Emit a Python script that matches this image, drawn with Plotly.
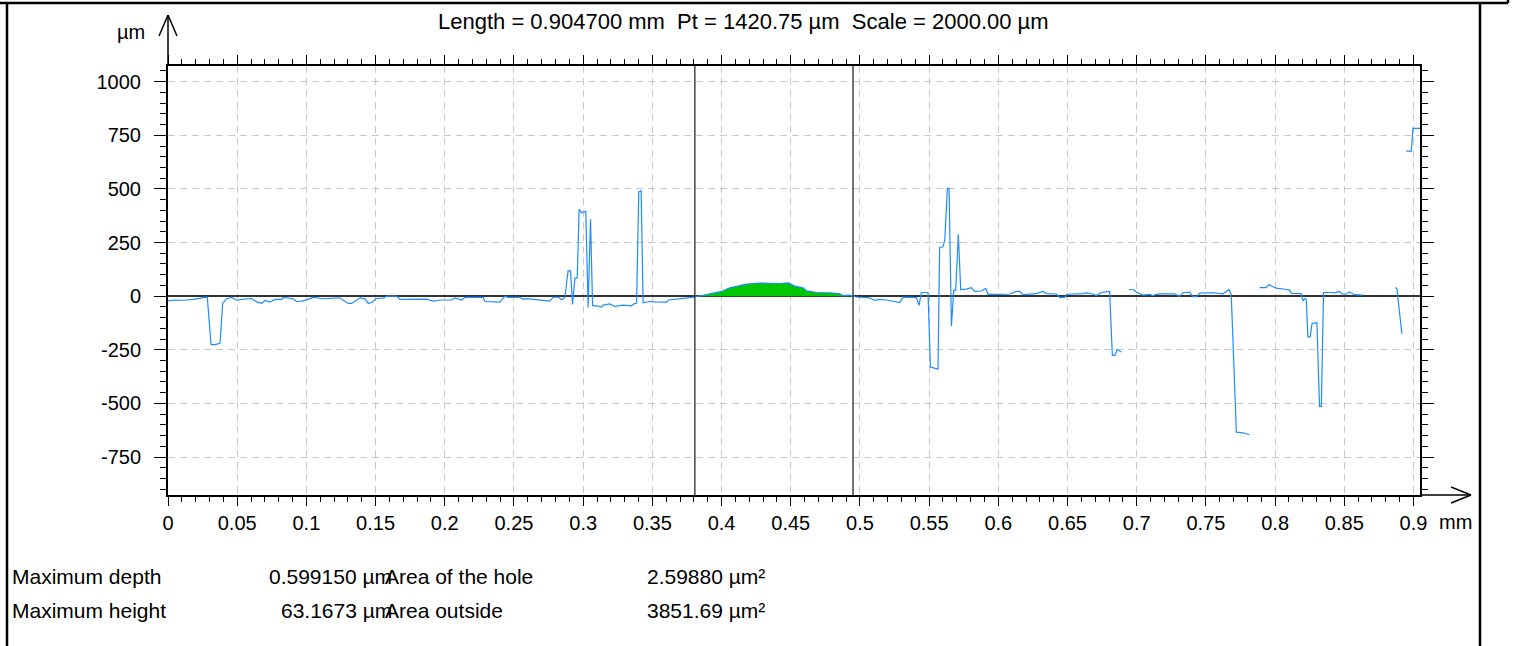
import plotly.graph_objects as go

# ---------------- data ----------------
x_mm = [
    0.0000, 0.0051, 0.0111, 0.0183, 0.0267, 0.0284, 0.0311, 0.0340, 0.0376, 0.0395, 0.0424, 0.0460, 0.0496, 0.0532,
    0.0605, 0.0641, 0.0677, 0.0701, 0.0737, 0.0773, 0.0821, 0.0833, 0.0905, 0.0930, 0.0977, 0.1050,
    0.1122, 0.1242, 0.1302, 0.1327, 0.1387, 0.1423, 0.1447, 0.1478, 0.1502, 0.1555, 0.1580, 0.1652, 0.1676,
    0.1772, 0.1796, 0.1869, 0.1916, 0.1965, 0.2049, 0.2073, 0.2122, 0.2145, 0.2278, 0.2290, 0.2398, 0.2434, 0.2458,
    0.2543, 0.2567, 0.2591, 0.2675, 0.2759, 0.2783, 0.2819, 0.2844, 0.2868,
    0.2891, 0.2909, 0.2923, 0.2940, 0.2957, 0.2971, 0.2989, 0.3019, 0.3036, 0.3053, 0.3068, 0.3108, 0.3133, 0.3144,
    0.3193, 0.3229, 0.3289, 0.3349, 0.3366, 0.3386, 0.3402, 0.3419, 0.3433, 0.3482,
    0.3518, 0.3602, 0.3619, 0.3675, 0.3722, 0.3807, 0.3939, 0.4000, 0.4060, 0.4180, 0.4276, 0.4421, 0.4481, 0.4529,
    0.4589, 0.4614, 0.4686, 0.4782, 0.4854, 0.4878, 0.4926, 0.4950, 0.4975, 0.5071, 0.5107, 0.5143, 0.5191,
    0.5288, 0.5311, 0.5408, 0.5427, 0.5444, 0.5492, 0.5509, 0.5564, 0.5576, 0.5600, 0.5613, 0.5632, 0.5644, 0.5661,
    0.5678, 0.5692, 0.5711, 0.5728, 0.5769, 0.5805, 0.5829, 0.5878, 0.5909, 0.5925,
    0.6010, 0.6082, 0.6131, 0.6154, 0.6178, 0.6275, 0.6322, 0.6346, 0.6419, 0.6443, 0.6479, 0.6492, 0.6612, 0.6636,
    0.6684, 0.6708, 0.6744, 0.6804, 0.6824, 0.6842, 0.6859, 0.6888, None,
    0.6944, 0.6973, 0.6997, 0.7045, 0.7093, 0.7117, 0.7141, 0.7165, 0.7274, 0.7310, 0.7334, 0.7382, 0.7406, 0.7431,
    0.7455, 0.7551, 0.7623, 0.7666, 0.7683, 0.7720, 0.7768, 0.7816, None,
    0.7888, 0.7936, 0.7955, 0.7984, 0.8009, 0.8081, 0.8105, 0.8117, 0.8189, 0.8201, 0.8213, 0.8225, 0.8237, 0.8254,
    0.8266, 0.8302, 0.8321, 0.8334, 0.8350, 0.8394, 0.8430, 0.8466, 0.8482, 0.8514, 0.8538, 0.8574, 0.8634, None,
    0.8868, 0.8880, 0.8916, None, 0.8948, 0.8984, 0.8996, 0.9047,
]
z_um = [
    -22, -18, -19, -15, -6, -5, -226, -226, -220, -34, -12, -6, -19, -15,
    -11, -27, -33, -20, -28, -15, -15, -6, -12, -26, -22, -6,
    -12, -8, -34, -34, -8, -12, -34, -27, -11, -9, 0, 0, -15,
    -14, -12, -14, -23, -18, -18, -8, -18, -6, -6, -25, -28, 0, -6,
    -6, -15, -12, -17, -23, -5, -5, -17, -6,
    118, 118, -39, 83, 85, 405, 389, 395, -53, 358, -44, -46, -51, -42,
    -36, -48, -42, -45, -36, -33, 487, 491, -31, -25,
    -27, -28, -18, -15, -10, -4, 12, 22, 39, 56, 61, 59, 62, 47,
    39, 25, 17, 16, 11, 3, 5, 0, -4, -8, -20, -15, -18,
    -30, -5, -7, -43, 17, 17, -330, -341, 227, 230, 262, 503, 503, -140,
    28, 28, 288, 31, 33, 40, 22, 24, 36, 8,
    8, 10, 22, 22, 7, 12, 22, 12, 10, -6, -6, 9, 12, 15,
    10, 3, 17, 22, -276, -276, -249, -260, None,
    31, 31, 19, 5, 8, 2, 8, 11, 11, -2, 16, 19, -2, -2,
    14, 16, 11, 31, 8, -634, -637, -646, None,
    40, 40, 53, 43, 37, 31, 28, 13, 12, -22, -12, -15, -190, -190,
    -128, -124, -514, -514, 17, 17, 15, 22, 10, 10, 20, 7, 5, None,
    40, 35, -175, None, 676, 676, 782, 782,
]
cursor_x = [0.3807, 0.4950]
x_range = [0, 0.9047]
y_range = [-927, 1073]
x_tick_labels = ["0", "0.05", "0.1", "0.15", "0.2", "0.25", "0.3", "0.35", "0.4", "0.45",
                 "0.5", "0.55", "0.6", "0.65", "0.7", "0.75", "0.8", "0.85", "0.9"]
y_tick_labels = ["-750", "-500", "-250", "0", "250", "500", "750", "1000"]

title_text = "Length = 0.904700 mm  Pt = 1420.75 µm  Scale = 2000.00 µm"
stats_labels = ["Maximum depth", "Maximum height"]
stats_values = ["0.599150 µm", "63.1673 µm"]
area_labels = ["Area of the hole", "Area outside"]
area_values = ["2.59880 µm²", "3851.69 µm²"]

# ---------------- layout geometry (pixels) ----------------
W, H = 1522, 646
L, R, T, B = 168, 1420, 66, 495


def P(px, py):
    return (px - L) / (R - L), (B - py) / (B - T)


FONT = "Liberation Sans, Arial, sans-serif"

# fill between cursors
fx, fy = [], []
for xv, zv in zip(x_mm, z_um):
    if xv is not None and zv is not None and cursor_x[0] <= xv <= cursor_x[1]:
        fx.append(xv)
        fy.append(max(zv, 0))

fig = go.Figure()
fig.add_trace(go.Scatter(x=fx, y=fy, mode="lines", fill="tozeroy",
                         fillcolor="#00C800", line=dict(width=0), hoverinfo="skip"))
fig.add_trace(go.Scatter(x=x_mm, y=z_um, mode="lines", connectgaps=False,
                         line=dict(color="#1E8CFF", width=1.2)))

axis_common = dict(
    showline=True, linecolor="black", linewidth=2, mirror="allticks",
    ticks="outside", tickwidth=1, tickcolor="black",
    showgrid=True, gridcolor="#C8C8C8", griddash="7px,5px", gridwidth=1,
    tickfont=dict(family=FONT, size=20, color="black"),
)
fig.update_xaxes(
    range=x_range, tickmode="array", ticklen=9,
    tickvals=[float(t) for t in x_tick_labels], ticktext=x_tick_labels,
    minor=dict(tickmode="linear", tick0=0, dtick=0.01, ticks="outside", ticklen=5,
               tickcolor="black", showgrid=False),
    zeroline=False, ticklabelstandoff=0, **axis_common)
fig.update_yaxes(
    range=y_range, tickmode="array", ticklen=12,
    tickvals=[float(t) for t in y_tick_labels], ticktext=y_tick_labels,
    minor=dict(tickmode="linear", tick0=0, dtick=50, ticks="outside", ticklen=6,
               tickcolor="black", showgrid=False),
    zeroline=True, zerolinecolor="#333333", zerolinewidth=1.5,
    ticklabelstandoff=9, **axis_common)

shapes = []
for cx in cursor_x:
    shapes.append(dict(type="line", xref="x", yref="paper", x0=cx, x1=cx, y0=0, y1=1,
                       line=dict(color="#444444", width=1.5)))


def seg(p0, p1, w=1.5, color="black"):
    a = P(*p0)
    b = P(*p1)
    return dict(type="line", xref="paper", yref="paper", x0=a[0], y0=a[1], x1=b[0], y1=b[1],
                line=dict(color=color, width=w))


# axis arrows
shapes += [
    seg((L, T), (L, 15), 1.5),
    seg((159, 36), (L, 15), 1.5), seg((177, 36), (L, 15), 1.5),
    seg((R, B), (1471, B), 1.5),
    seg((1451, 487), (1471, B), 1.5), seg((1451, 503), (1471, B), 1.5),
]
# window borders
shapes += [
    seg((0, 3), (1508, 3), 2.5),
    seg((1508, 0), (1508, 3), 2.5),
    seg((7, 3), (7, 646), 2.5),
    seg((1480, 3), (1480, 646), 2.5),
]

annotations = []


def text(px, py, s, anchor="left", size=20):
    x, y = P(px, py)
    annotations.append(dict(x=x, y=y, xref="paper", yref="paper", text=s, showarrow=False,
                            xanchor=anchor, yanchor="middle",
                            font=dict(family=FONT, size=size, color="black")))


text(743, 22, title_text, "center", 22)
text(147, 32, "µm", "right", 20)
text(1437, 522, "mm", "left", 20)
for i in range(2):
    yy = 576 + 34 * i
    text(10, yy, stats_labels[i], "left", 21)
    text(394, yy, stats_values[i], "right", 21)
    text(383, yy, area_labels[i], "left", 21)
    text(645, yy, area_values[i], "left", 21)

fig.update_layout(
    width=W, height=H, margin=dict(l=L, r=W - R, t=T, b=H - B),
    plot_bgcolor="white", paper_bgcolor="white", showlegend=False,
    font=dict(family=FONT, size=20, color="black"),
    shapes=shapes, annotations=annotations,
)

fig.write_html("out.html", config={"displayModeBar": False},
               post_script="document.body.style.margin='0px';document.body.style.padding='0px';"
                           "document.body.style.overflow='hidden';")
